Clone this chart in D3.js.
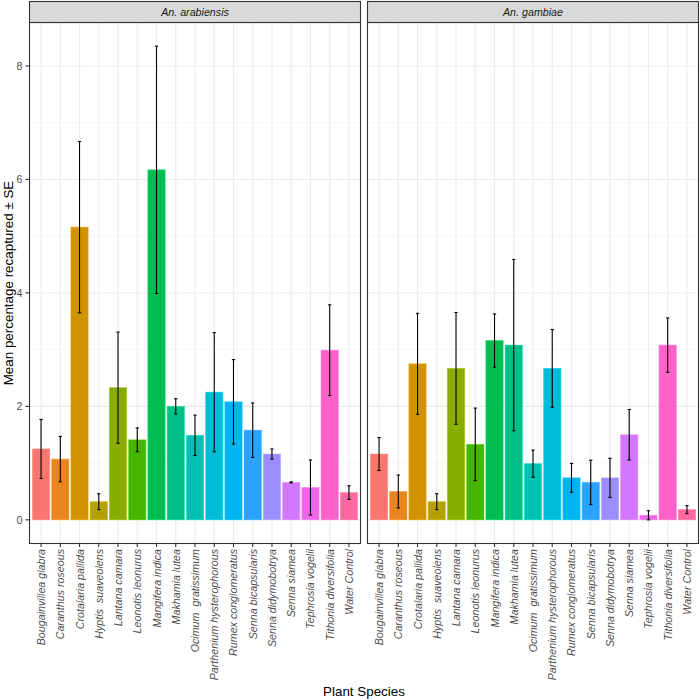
<!DOCTYPE html>
<html>
<head>
<meta charset="utf-8">
<script src="https://cdn.jsdelivr.net/npm/d3@7"></script>
<style>
  html, body { margin: 0; padding: 0; background: #fff; }
  text { font-family: "Liberation Sans", Arial, sans-serif; }
</style>
</head>
<body>
<svg id="chart" width="700" height="699"></svg>
<script>
// ---------- data ----------
const species = [
  "Bougainvillea glabra", "Caranthus roseous", "Crotalaria pallida", "Hyptis  suaveolens",
  "Lantana camara", "Leonotis leonurus", "Mangifera indica", "Makhamia lutea",
  "Ocimum  gratissimum", "Parthenium hysterophorous", "Rumex conglomeratus",
  "Senna bicapsularis", "Senna didymobotrya", "Senna siamea", "Tephrosia vogelii",
  "Tithonia diversifolia", "Water Control"
];
const panels = ["An. arabiensis", "An. gambiae"];
const arabiensisMean = [1.25, 1.07, 5.16, 0.32, 2.33, 1.41, 6.17, 2.00, 1.49, 2.25, 2.08, 1.58, 1.16, 0.66, 0.57, 2.99, 0.48];
const arabiensisSE   = [0.52, 0.40, 1.51, 0.14, 0.98, 0.21, 2.18, 0.135, 0.355, 1.05, 0.745, 0.48, 0.09, 0.01, 0.485, 0.80, 0.12];
const gambiaeMean    = [1.16, 0.50, 2.75, 0.32, 2.67, 1.33, 3.16, 3.08, 0.99, 2.67, 0.74, 0.66, 0.74, 1.50, 0.08, 3.08, 0.18];
const gambiaeSE      = [0.29, 0.29, 0.89, 0.14, 0.985, 0.64, 0.47, 1.51, 0.24, 0.685, 0.255, 0.39, 0.345, 0.445, 0.08, 0.48, 0.07];
const yTicks = [0, 2, 4, 6, 8];
const yMinor = [1, 3, 5, 7];

const panelData = [
  species.map((s, i) => ({ species: s, mean: arabiensisMean[i], se: arabiensisSE[i] })),
  species.map((s, i) => ({ species: s, mean: gambiaeMean[i], se: gambiaeSE[i] }))
];

// ggplot-style hue palette (polar LUV, l=65, c=100)
function hueColor(hDeg) {
  const L = 65, C = 100, h = hDeg * Math.PI / 180;
  const u = C * Math.cos(h), v = C * Math.sin(h);
  const Xn = 95.047, Yn = 100, Zn = 108.883;
  const un = 4 * Xn / (Xn + 15 * Yn + 3 * Zn), vn = 9 * Yn / (Xn + 15 * Yn + 3 * Zn);
  const Y = Yn * Math.pow((L + 16) / 116, 3);
  const up = u / (13 * L) + un, vp = v / (13 * L) + vn;
  const X = Y * 9 * up / (4 * vp);
  const Z = Y * (12 - 3 * up - 20 * vp) / (4 * vp);
  const x = X / 100, y = Y / 100, z = Z / 100;
  let r = 3.2404542 * x - 1.5371385 * y - 0.4985314 * z;
  let g = -0.9692660 * x + 1.8760108 * y + 0.0415560 * z;
  let b = 0.0556434 * x - 0.2040259 * y + 1.0572252 * z;
  const gam = c => { c = c <= 0.0031308 ? 12.92 * c : 1.055 * Math.pow(c, 1 / 2.4) - 0.055; return Math.round(Math.max(0, Math.min(1, c)) * 255); };
  return d3.rgb(gam(r), gam(g), gam(b)).formatHex();
}
const n = species.length;
const palette = species.map((s, i) => hueColor(15 + i * 360 / n));
const color = d3.scaleOrdinal().domain(species).range(palette);

// ---------- layout ----------
const svg = d3.select("#chart");
const panelTop = 22.5, panelBottom = 543.5;
const stripTop = 1.5;
const panelX = [[29.5, 360.5], [367.5, 698.5]];
const fs = "10.7px";

const allVals = panelData.flat();
const hi = d3.max(allVals, d => d.mean + d.se);
const lo = Math.min(0, d3.min(allVals, d => d.mean - d.se));
const span = hi - lo;
const y = d3.scaleLinear().domain([lo - 0.05 * span, hi + 0.05 * span]).range([panelBottom, panelTop]);

panelData.forEach((data, pi) => {
  const [x0, x1] = panelX[pi];
  // ggplot discrete scale: 0.6 unit expansion on each side
  const step = (x1 - x0) / (n - 1 + 1.2);
  const x = d3.scalePoint().domain(species).range([x0 + 0.6 * step, x1 - 0.6 * step]);
  const barW = 0.9 * step;

  const g = svg.append("g");
  g.append("rect").attr("x", x0).attr("y", panelTop).attr("width", x1 - x0).attr("height", panelBottom - panelTop).attr("fill", "#fff");
  g.selectAll(".minor").data(yMinor).join("line")
    .attr("x1", x0).attr("x2", x1).attr("y1", d => y(d)).attr("y2", d => y(d))
    .attr("stroke", "#F2F2F2").attr("stroke-width", 0.6);
  g.selectAll(".majorY").data(yTicks).join("line")
    .attr("x1", x0).attr("x2", x1).attr("y1", d => y(d)).attr("y2", d => y(d))
    .attr("stroke", "#EBEBEB").attr("stroke-width", 1.1);
  g.selectAll(".majorX").data(species).join("line")
    .attr("x1", d => x(d)).attr("x2", d => x(d)).attr("y1", panelTop).attr("y2", panelBottom)
    .attr("stroke", "#EBEBEB").attr("stroke-width", 1.1);
  // bars
  g.selectAll(".bar").data(data).join("rect")
    .attr("x", d => x(d.species) - barW / 2).attr("width", barW)
    .attr("y", d => y(d.mean)).attr("height", d => y(0) - y(d.mean))
    .attr("fill", d => color(d.species))
    .attr("stroke", d => d3.color(color(d.species)).brighter(0.4))
    .attr("stroke-opacity", 0.6).attr("stroke-width", 0.8);
  // error bars
  const capW = 0.17 * step;
  const eb = g.selectAll(".eb").data(data).join("g");
  eb.append("line")
    .attr("x1", d => x(d.species)).attr("x2", d => x(d.species))
    .attr("y1", d => y(d.mean + d.se)).attr("y2", d => y(d.mean - d.se))
    .attr("stroke", "#000").attr("stroke-width", 1.1);
  eb.append("line")
    .attr("x1", d => x(d.species) - capW / 2).attr("x2", d => x(d.species) + capW / 2)
    .attr("y1", d => y(d.mean + d.se)).attr("y2", d => y(d.mean + d.se))
    .attr("stroke", "#000").attr("stroke-width", 1.1);
  eb.append("line")
    .attr("x1", d => x(d.species) - capW / 2).attr("x2", d => x(d.species) + capW / 2)
    .attr("y1", d => y(d.mean - d.se)).attr("y2", d => y(d.mean - d.se))
    .attr("stroke", "#000").attr("stroke-width", 1.1);
  // panel border
  g.append("rect").attr("x", x0).attr("y", panelTop).attr("width", x1 - x0).attr("height", panelBottom - panelTop)
    .attr("fill", "none").attr("stroke", "#333333").attr("stroke-width", 1.1);
  // strip
  g.append("rect").attr("x", x0).attr("y", stripTop).attr("width", x1 - x0).attr("height", panelTop - stripTop)
    .attr("fill", "#D9D9D9").attr("stroke", "#333333").attr("stroke-width", 1.1);
  g.append("text").attr("x", (x0 + x1) / 2).attr("y", (stripTop + panelTop) / 2)
    .attr("text-anchor", "middle").attr("dominant-baseline", "central")
    .attr("font-size", fs).attr("font-style", "italic").attr("fill", "#1A1A1A")
    .text(panels[pi]);
  // x ticks
  g.selectAll(".xt").data(species).join("line")
    .attr("x1", d => x(d)).attr("x2", d => x(d)).attr("y1", panelBottom).attr("y2", panelBottom + 3.5)
    .attr("stroke", "#333333").attr("stroke-width", 1.1);
  g.selectAll(".xl").data(species).join("text")
    .attr("transform", d => `translate(${x(d)},${panelBottom + 5.5}) rotate(-90)`)
    .attr("text-anchor", "end").attr("dominant-baseline", "central")
    .attr("font-size", fs).attr("font-style", "italic").attr("fill", "#4D4D4D")
    .style("white-space", "pre")
    .text(d => d);
});

// y axis
const yg = svg.append("g");
yg.selectAll("line").data(yTicks).join("line")
  .attr("x1", panelX[0][0] - 4).attr("x2", panelX[0][0]).attr("y1", d => y(d)).attr("y2", d => y(d))
  .attr("stroke", "#333333").attr("stroke-width", 1.1);
yg.selectAll("text").data(yTicks).join("text")
  .attr("x", panelX[0][0] - 7).attr("y", d => y(d))
  .attr("text-anchor", "end").attr("dominant-baseline", "central")
  .attr("font-size", fs).attr("fill", "#4D4D4D")
  .text(d => d);

// axis titles
svg.append("text")
  .attr("transform", `translate(8,${(panelTop + panelBottom) / 2}) rotate(-90)`)
  .attr("text-anchor", "middle").attr("dominant-baseline", "central")
  .attr("font-size", "13.4px").attr("fill", "#000")
  .text("Mean percentage recaptured ± SE");
svg.append("text")
  .attr("x", (panelX[0][0] + panelX[1][1]) / 2).attr("y", 691)
  .attr("text-anchor", "middle").attr("dominant-baseline", "central")
  .attr("font-size", "13.4px").attr("fill", "#000")
  .text("Plant Species");
</script>
</body>
</html>
